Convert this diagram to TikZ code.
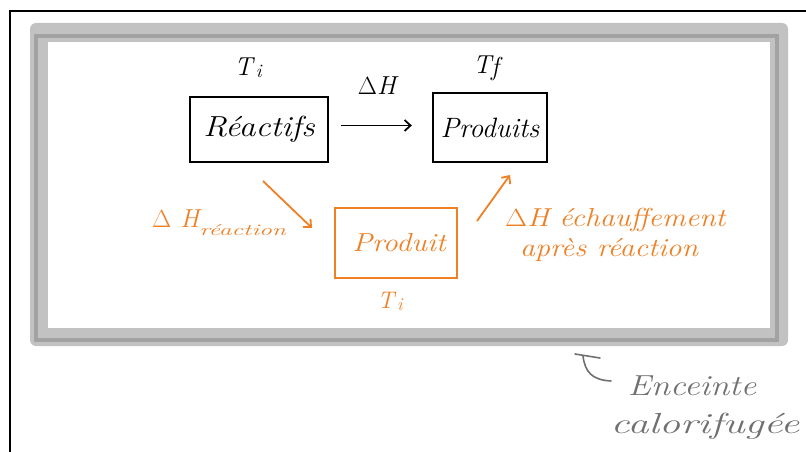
\documentclass[tikz,border=0pt]{standalone}
\usepackage{graphicx}
\usetikzlibrary{arrows.meta}

\definecolor{hworange}{RGB}{240,128,36}
\definecolor{hwgray}{RGB}{112,112,112}
\definecolor{framegray}{RGB}{194,194,194}
\definecolor{framedark}{RGB}{162,162,162}

% stretched italic, a stand-in for the hand lettering
\newcommand{\handtext}[2][1.15]{\scalebox{#1}[1]{#2}}
\newcommand{\fs}[1]{\fontsize{#1}{#1}\selectfont}

\tikzset{
  lbl/.style={inner sep=0pt, font=\itshape},
  blackbox/.style={draw=black, line width=2.3pt, inner sep=0pt},
  orangebox/.style={draw=hworange, line width=2.3pt, inner sep=0pt, text=hworange},
  barb/.style={-{Straight Barb[length=6pt,width=11pt,line width=1.8pt]}, line width=1.8pt},
}

\begin{document}
\begin{tikzpicture}[x=1pt, y=-1pt]
  \useasboundingbox (0,0) rectangle (806,452);

  % outer black frame
  \draw[line width=2.4pt] (10,460) -- (10,11) -- (815,11);

  % insulated enclosure: grey wall with a darker bevel line
  \fill[framegray, rounded corners=6pt] (30,23) rectangle (788,346);
  \draw[framedark, line width=4pt] (35.5,36) rectangle (776.5,340);
  \fill[white] (48,42) rectangle (770,328);

  % initial and final states
  \node[blackbox, minimum width=138pt, minimum height=65pt, font=\itshape\fs{29}] (reac) at (259,129.5) {\handtext{Réactifs}};
  \node[blackbox, minimum width=114pt, minimum height=69pt, font=\itshape\fs{28}] (prod) at (490,127.5) {\handtext[1.0]{Produits}};
  \node[lbl, font=\itshape\fs{26}] (ti) at (248,68) {T\raisebox{-2pt}{\fs{19}\,i}};
  \node[lbl, font=\itshape\fs{26}] (dh) at (377,86) {$\Delta$H};
  \node[lbl, font=\itshape\fs{26}] (tf) at (486,68) {T\raisebox{-2pt}{f}};
  \coordinate (a0s) at ([xshift=12pt, yshift=4pt]reac.east);
  \draw[barb, shorten >=20pt] (a0s) -- (a0s -| prod.west);

  % intermediate path (orange)
  \node[orangebox, minimum width=122pt, minimum height=70pt, font=\itshape\fs{26}] (prodi) at (396,243) {\raisebox{-8pt}{\hspace*{6pt}\handtext{Produit}}};
  \node[lbl, text=hworange, font=\itshape\fs{24}] (ti2) at (390,301) {T\raisebox{-2pt}{\fs{18}\,i}};

  \coordinate (a1s) at (263,181);
  \coordinate (a1e) at (312,228);
  \draw[barb, hworange] (a1s) -- (a1e);
  \coordinate (a2s) at (477,221);
  \coordinate (a2e) at (510,175);
  \draw[barb, hworange] (a2s) -- (a2e);

  \node[lbl, text=hworange, font=\itshape\fs{26}, anchor=base west] (dhr) at (152,227)
    {$\Delta$\hspace{9pt}H\raisebox{-8pt}{\fs{16}\handtext[1.6]{réaction}}};
  \node[lbl, text=hworange, font=\itshape\fs{26}, anchor=base west] (dhe) at (505,226)
    {\handtext{$\Delta$H échauffement}};
  \node[lbl, text=hworange, font=\itshape\fs{26}, anchor=base west] (apr) at (520,256)
    {\handtext{après réaction}};

  % note on the enclosure wall
  \coordinate (hk1) at (575,354);
  \coordinate (hk2) at (600,358);
  \coordinate (hk3) at (583,356);
  \coordinate (hk4) at (611,381);
  \draw[hwgray, line width=1.6pt, line cap=round] (hk1) -- (hk2);
  \draw[hwgray, line width=1.6pt, line cap=round] (hk3) .. controls (585,372) and (592,380) .. (hk4);
  \node[lbl, text=hwgray, font=\itshape\fs{29}] (enc) at (692,386) {\handtext[1.2]{Enceinte}};
  \node[lbl, text=hwgray, font=\itshape\fs{29}] (cal) at (705,426) {\handtext[1.45]{calorifugée}};
\end{tikzpicture}
\end{document}
